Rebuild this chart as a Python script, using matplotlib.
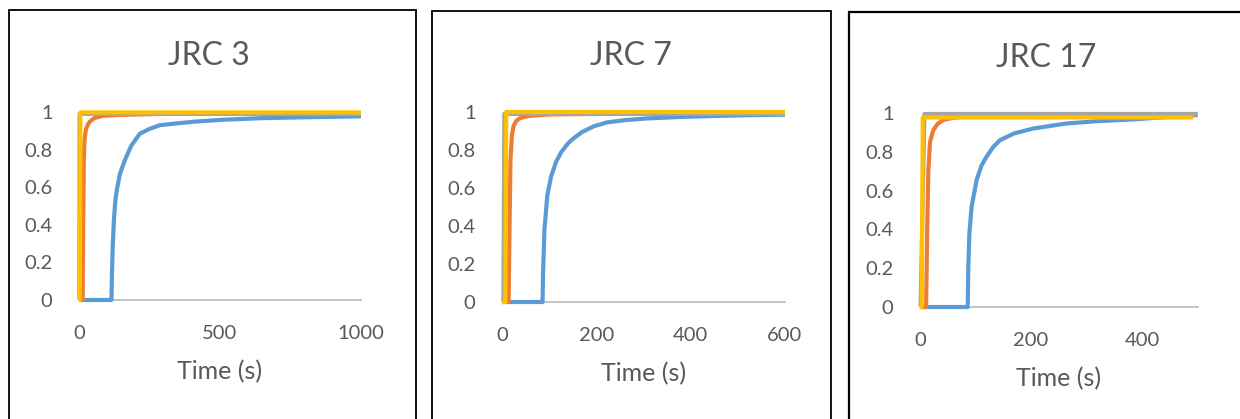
import matplotlib
matplotlib.use("Agg")
import matplotlib.pyplot as plt
from matplotlib.patches import Rectangle

plt.rcParams['font.family'] = ['Lato', 'DejaVu Sans']

# ---------------- data ----------------
titles = ["JRC 3", "JRC 7", "JRC 17"]
x_max = [1000, 600, 500]
x_ticks = [[0, 500, 1000], [0, 200, 400, 600], [0, 200, 400]]
y_ticks = [0, 0.2, 0.4, 0.6, 0.8, 1]
y_tick_labels = ["0", "0.2", "0.4", "0.6", "0.8", "1"]
x_label = "Time (s)"

# JRC 3
jrc3_blue_t = [0, 115, 117, 120, 124, 129, 134, 145, 163, 185, 216, 250, 287, 350, 404, 500, 642, 800, 1000]
jrc3_blue_v = [0, 0, 0.15, 0.3, 0.43, 0.53, 0.585, 0.67, 0.745, 0.82, 0.885, 0.91, 0.93, 0.94, 0.948, 0.958, 0.967, 0.972, 0.977]
jrc3_orange_t = [0, 13, 15, 17, 20, 25, 32, 39, 55, 85, 150, 300, 1000]
jrc3_orange_v = [0, 0, 0.4, 0.75, 0.86, 0.91, 0.935, 0.95, 0.968, 0.98, 0.985, 0.99, 0.99]
jrc3_gray_t = [0, 1, 2, 1000]
jrc3_gray_v = [0, 0, 0.99, 0.99]
jrc3_yellow_t = [0, 3, 5, 1000]
jrc3_yellow_v = [0, 0, 0.998, 0.998]

# JRC 7
jrc7_blue_t = [0, 86, 87, 90, 96, 104, 115, 126, 140, 151, 170, 195, 222, 260, 307, 380, 448, 520, 600]
jrc7_blue_v = [0, 0, 0.15, 0.38, 0.56, 0.66, 0.74, 0.79, 0.835, 0.86, 0.895, 0.925, 0.945, 0.957, 0.966, 0.974, 0.979, 0.983, 0.986]
jrc7_orange_t = [0, 14, 16, 18, 21, 25, 31, 40, 60, 100, 200, 600]
jrc7_orange_v = [0, 0, 0.4, 0.75, 0.88, 0.93, 0.955, 0.97, 0.98, 0.987, 0.99, 0.993]
jrc7_gray_t = [0, 3, 5, 600]
jrc7_gray_v = [0, 0, 0.99, 0.99]
jrc7_yellow_t = [0, 7, 9, 600]
jrc7_yellow_v = [0, 0, 1.0, 1.0]

# JRC 17
jrc17_blue_t = [0, 86, 87, 89, 93, 102, 111, 120, 132, 144, 170, 204, 264, 320, 384, 440, 500]
jrc17_blue_v = [0, 0, 0.2, 0.38, 0.517, 0.655, 0.73, 0.775, 0.825, 0.86, 0.895, 0.92, 0.946, 0.958, 0.967, 0.978, 0.99]
jrc17_orange_t = [0, 11, 13, 15, 18, 24, 32, 42, 60, 100, 200, 500]
jrc17_orange_v = [0, 0, 0.4, 0.7, 0.85, 0.912, 0.945, 0.964, 0.975, 0.985, 0.99, 0.993]
jrc17_gray_t = [0, 1, 8, 500]
jrc17_gray_v = [0, 0, 0.995, 0.995]
jrc17_yellow_t = [0, 3, 5, 492]
jrc17_yellow_v = [0, 0, 0.977, 0.977]

series = [
    [(jrc3_blue_t, jrc3_blue_v), (jrc3_orange_t, jrc3_orange_v), (jrc3_gray_t, jrc3_gray_v), (jrc3_yellow_t, jrc3_yellow_v)],
    [(jrc7_blue_t, jrc7_blue_v), (jrc7_orange_t, jrc7_orange_v), (jrc7_gray_t, jrc7_gray_v), (jrc7_yellow_t, jrc7_yellow_v)],
    [(jrc17_blue_t, jrc17_blue_v), (jrc17_orange_t, jrc17_orange_v), (jrc17_gray_t, jrc17_gray_v), (jrc17_yellow_t, jrc17_yellow_v)],
]
colors = ["#5B9BD5", "#ED7D31", "#A5A5A5", "#FFC000"]

# ---------------- layout ----------------
W, H = 1240, 419
fig = plt.figure(figsize=(W / 100, H / 100), dpi=100)

# axes boxes in pixels: (x0, x_end, y_bottom, y_top)
axes_px = [(79, 361, 300, 112), (502, 785, 302, 112), (920, 1197.5, 307, 113)]
panel_px = [(9, 416, 10), (432, 831, 11), (849, 1260, 12)]
title_px = [(209, 56), (631, 56), (1046, 58)]
text_color = "#595959"

for i in range(3):
    # panel border
    px0, px1, py0 = panel_px[i]
    fig.add_artist(Rectangle((px0 / W, -0.05), (px1 - px0) / W, (H - py0) / H + 0.05,
                             transform=fig.transFigure, fill=False,
                             edgecolor="black", linewidth=1.3 if i < 2 else 1.6))
    x0, x1, yb, yt = axes_px[i]
    ax = fig.add_axes([x0 / W, (H - yb) / H, (x1 - x0) / W, (yb - yt) / H])
    for (t, v), c in zip(series[i], colors):
        ax.plot(t, v, color=c, linewidth=3.0, clip_on=False, solid_joinstyle="round",
                solid_capstyle="butt")
    ax.set_xlim(0, x_max[i])
    ax.set_ylim(0, 1)
    ax.set_xticks(x_ticks[i])
    ax.set_xticklabels([str(v) for v in x_ticks[i]])
    ax.set_yticks(y_ticks)
    ax.set_yticklabels(y_tick_labels)
    ax.tick_params(length=0, labelsize=14.5, labelcolor=text_color)
    ax.tick_params(axis="y", pad=19)
    ax.tick_params(axis="x", pad=18)
    for s in ["top", "right", "left"]:
        ax.spines[s].set_visible(False)
    ax.spines["bottom"].set_color("#BFBFBF")
    ax.spines["bottom"].set_linewidth(1.3)
    ax.spines["bottom"].set_zorder(0)
    ax.patch.set_alpha(0)
    ax.set_xlabel(x_label, fontsize=18, color=text_color, labelpad=13)
    tx, ty = title_px[i]
    fig.text(tx / W, 1 - ty / H, titles[i], fontsize=23, color=text_color,
             ha="center", va="center")

fig.savefig("out.png", dpi=100)
